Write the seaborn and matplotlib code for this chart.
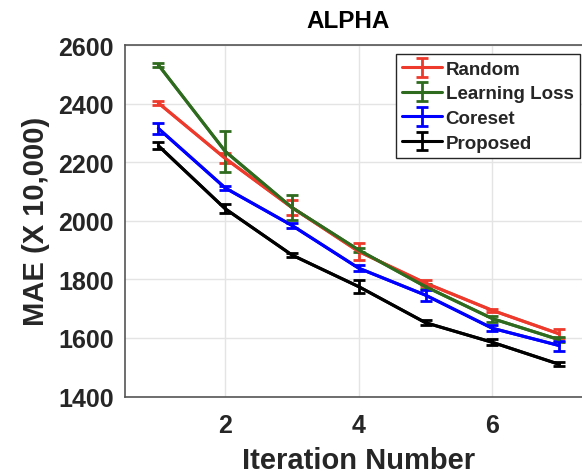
import matplotlib
matplotlib.use("Agg")
import matplotlib.pyplot as plt
import seaborn as sns
import pandas as pd

iterations = [1, 2, 3, 4, 5, 6, 7]
series_names = ["Random", "Learning Loss", "Coreset", "Proposed"]
random_mae = [2402, 2213, 2045, 1895, 1787, 1694, 1614]
random_err = [6, 17, 26, 29, 10, 6, 15]
ll_mae = [2532, 2237, 2045, 1900, 1775, 1666, 1594]
ll_err = [8, 70, 44, 8, 8, 10, 8]
coreset_mae = [2315, 2112, 1984, 1838, 1746, 1633, 1574]
coreset_err = [20, 8, 10, 10, 19, 10, 17]
proposed_mae = [2256, 2041, 1883, 1775, 1652, 1585, 1510]
proposed_err = [12, 15, 8, 23, 8, 10, 7]
colors = ["#ee3a2c", "#2f6b1f", "#0000ff", "#000000"]

values = [random_mae, ll_mae, coreset_mae, proposed_mae]
errors = [random_err, ll_err, coreset_err, proposed_err]

rows = []
for name, vals in zip(series_names, values):
    for it, v in zip(iterations, vals):
        rows.append({"Iteration": it, "MAE": v, "Method": name})
df = pd.DataFrame(rows)

sns.set_style("white")
plt.rcParams["font.family"] = ["Liberation Sans", "DejaVu Sans"]
plt.rcParams["font.weight"] = "bold"

fig = plt.figure(figsize=(5.82, 4.77), dpi=100)
W, H = 582, 477
ax = fig.add_axes([125 / W, 1 - 397.5 / H, (592.5 - 125) / W, (397.5 - 46) / H])

sns.lineplot(data=df, x="Iteration", y="MAE", hue="Method", hue_order=series_names,
             palette=colors, linewidth=2.2, legend=False, ax=ax)

for name, vals, errs, c in zip(series_names, values, errors, colors):
    ax.errorbar(iterations, vals, yerr=errs, fmt="-", color=c, lw=2.2,
                elinewidth=2.0, capsize=4, capthick=2.0, label=name)

ax.set_xlim(0.5, 7.5)
ax.set_ylim(1400, 2600)
ax.set_xticks([2, 4, 6])
ax.set_yticks([1400, 1600, 1800, 2000, 2200, 2400, 2600])
ax.grid(True, color="#e4e4e4", lw=1)
ax.set_axisbelow(True)
for s in ax.spines.values():
    s.set_color("#555555")
    s.set_linewidth(1.2)
ax.tick_params(direction="in", length=4, width=1, color="#555555",
               labelsize=18, labelcolor="#262626", pad=8)
ax.tick_params(axis="x", pad=12)
for lab in ax.get_xticklabels() + ax.get_yticklabels():
    lab.set_fontweight("bold")

ax.set_xlabel("Iteration Number", fontsize=21, fontweight="bold", color="#262626", labelpad=6.5)
ax.set_ylabel("MAE (X 10,000)", fontsize=21, fontweight="bold", color="#262626", labelpad=6)
fig.text(348 / W, 1 - 22 / H, "ALPHA", fontsize=17.5, fontweight="bold",
         ha="center", va="center", color="#000000")

leg = ax.legend(loc="upper right", bbox_to_anchor=(580 / W, 1 - 55 / H),
                bbox_transform=fig.transFigure, fontsize=13.5, frameon=True,
                fancybox=False, edgecolor="#262626", framealpha=1,
                handlelength=2.1, handletextpad=0.2, labelspacing=0.4,
                borderpad=0.35, borderaxespad=0)
leg.get_frame().set_linewidth(1.0)
for t in leg.get_texts():
    t.set_fontweight("bold")

fig.savefig("out.png", dpi=100)
